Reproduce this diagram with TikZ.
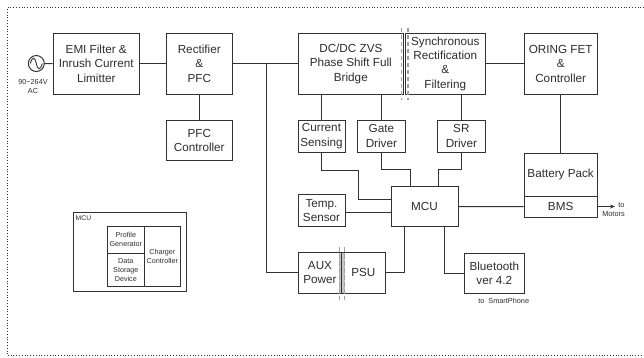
\documentclass[tikz,border=0pt]{standalone}
\usepackage{fontspec}
\setmainfont{Liberation Sans}
\usetikzlibrary{arrows.meta, calc}
\definecolor{line1}{RGB}{50, 50, 50}
\definecolor{text1}{RGB}{45, 45, 45}
\tikzset{
  block/.style={draw=line1, line width=1pt, inner sep=0pt, align=center, text=text1, font=\fontsize{11.7}{14.3}\selectfont},
  tiny/.style={block, line width=0.8pt, font=\fontsize{7.2}{9}\selectfont},
  note/.style={inner sep=0pt, align=center, text=text1, font=\fontsize{7.3}{9}\selectfont},
  wire/.style={draw=line1, line width=1pt},
  barrier/.style={draw=gray!75, line width=1.2pt, dash pattern=on 4.5pt off 2.5pt}
}
\begin{document}
\begin{tikzpicture}[x=1pt, y=-1pt]
  \useasboundingbox (0,0) rectangle (644,357);
  \draw[line1, line width=0.8pt, dotted] (644,7) -- (7.5,7) -- (7.5,355.7) -- (644,355.7);

  % top row
  \node[draw=line1, line width=1pt, circle, minimum size=16pt, inner sep=0pt] (acsrc) at (36.3,63.5) {};
  \node[note] (acnote) at (33,86.5) {90\textasciitilde264V\\AC};
  \node[block, minimum width=86.5pt, minimum height=60.5pt] (emi) at (96.25,63.75) {EMI Filter \&\\Inrush Current\\Limitter};
  \node[block, minimum width=66.5pt, minimum height=60.5pt] (rect) at (199.25,63.75) {Rectifier\\\&\\PFC};
  \node[block, minimum width=105.7pt, minimum height=60.5pt] (dcdc) at (350.85,63.75) {DC/DC ZVS\\Phase Shift Full\\Bridge};
  \node[block, minimum width=79.5pt, minimum height=60.5pt] (sync) at (445.25,63.75) {Synchronous\\Rectification\\\&\\Filtering};
  \node[block, minimum width=73.3pt, minimum height=60.5pt] (oring) at (560.65,63.75) {ORING FET\\\&\\Controller};
  \node[block, minimum width=66.5pt, minimum height=40.5pt] (pfc) at (199.25,140.25) {PFC\\Controller};

  % second row
  \node[block, minimum width=47pt, minimum height=32pt] (cur) at (321.5,136) {Current\\Sensing};
  \node[block, minimum width=47.3pt, minimum height=32pt] (gate) at (381.35,136) {Gate\\Driver};
  \node[block, minimum width=47.3pt, minimum height=32pt] (srdrv) at (461.35,136) {SR\\Driver};

  % mcu row
  \node[block, minimum width=47pt, minimum height=32.2pt] (temp) at (321.5,210.4) {Temp.\\Sensor};
  \node[block, minimum width=67pt, minimum height=39.8pt] (mcu) at (424.5,206.6) {MCU};
  \node[block, minimum width=73.3pt, minimum height=42.7pt] (batt) at (560.65,174.65) {Battery Pack};
  \node[block, minimum width=73.3pt, minimum height=21pt] (bms) at (560.65,206.5) {BMS};

  % bottom row
  \fill[gray!45] (338.8,253) rectangle (345,293);
  \node[block, minimum width=43.4pt, minimum height=40.3pt] (aux) at (320,272.85) {AUX\\Power};
  \node[block, minimum width=43.3pt, minimum height=40.3pt] (psu) at (363.35,272.85) {PSU};
  \node[block, minimum width=60pt, minimum height=40pt] (bt) at (494.3,273) {Bluetooth\\ver 4.2};
  \node[note] (btnote) at (503.7,301) {to\ \ SmartPhone};
  \node[note] (motnote) at (613.5,210) {\hspace*{16pt}to\\Motors};

  % mcu inset
  \node[tiny, minimum width=113pt, minimum height=79pt] (inset) at (130.2,252.2) {};
  \node[note, font=\fontsize{6.8}{8}\selectfont] (insetlbl) at (75.5,218) [anchor=west] {MCU};
  \node[tiny, minimum width=36.3pt, minimum height=27.3pt] (profile) at (125.85,239.65) {Profile\\Generator};
  \node[tiny, minimum width=36.3pt, minimum height=33pt] (store) at (125.85,269.8) {Data\\Storage\\Device};
  \node[tiny, minimum width=36.7pt, minimum height=60.3pt] (charger) at (162.35,256.15) {Charger\\Controller};

  % junctions
  \coordinate (bus) at (266,63.5);
  \coordinate (curbend) at (358.3,170);
  \coordinate (gatebend) at (410.3,169.5);
  \coordinate (srbend) at (438.3,169.5);
  \coordinate (mcuA) at (391,199.3);
  \coordinate (mcuB) at (391,212.7);
  \coordinate (mcuC) at (404.3,226.5);
  \coordinate (mcuD) at (444.3,226.5);
  \coordinate (motor) at (615,206.5);

  % connectors
  \draw[wire] (acsrc) -- (emi);
  \draw[wire] (emi) -- (rect);
  \draw[wire] (rect) -- (dcdc);
  \draw[wire] (rect) -- (pfc);
  \draw[wire] (bus) |- (aux);
  \draw[wire] (sync) -- (oring);
  \draw[wire] (oring) -- (batt);
  \draw[wire] (cur.north |- dcdc.south) -- (cur);
  \draw[wire] (gate.north |- dcdc.south) -- (gate);
  \draw[wire] (srdrv.north |- sync.south) -- (srdrv);
  \draw[wire] (cur.south) |- (curbend) |- (mcuA);
  \draw[wire] (gate.south) |- (gatebend) -- (gatebend |- mcu.north);
  \draw[wire] (srdrv.south) |- (srbend) -- (srbend |- mcu.north);
  \draw[wire] (temp.east |- mcuB) -- (mcuB);
  \draw[wire] (mcu) -- (bms);
  \draw[wire] (mcuC) |- (psu);
  \draw[wire] (mcuD) |- (bt);
  \draw[wire, -{Stealth[length=5pt, width=4pt]}] (bms) -- (motor);

  % sine in the source
  \draw[line1, line width=0.9pt] ($(acsrc)+(-6,0)$) .. controls ($(acsrc)+(-4,-7)$) and ($(acsrc)+(-1.5,-7)$) .. (acsrc.center) .. controls ($(acsrc)+(1.5,7)$) and ($(acsrc)+(4,7)$) .. ($(acsrc)+(6,0)$);

  % isolation barriers
  \draw[barrier] (401.2,27.5) -- (401.2,100);
  \draw[barrier] (408,27.5) -- (408,100);
  \draw[barrier] (339.4,247) -- (339.4,300);
  \draw[barrier] (344.4,247) -- (344.4,300);
\end{tikzpicture}
\end{document}
